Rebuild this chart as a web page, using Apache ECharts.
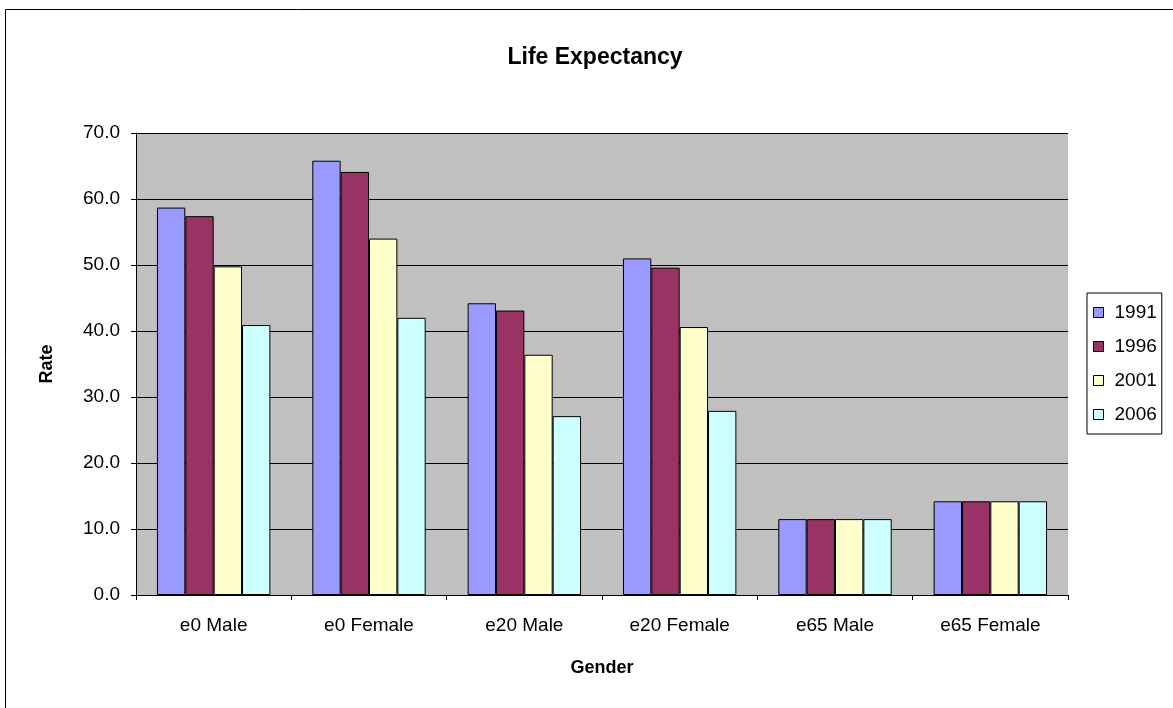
<!DOCTYPE html>
<html>
<head>
<meta charset="utf-8">
<script src="https://cdn.jsdelivr.net/npm/echarts@6/dist/echarts.min.js"></script>
<style>
  html, body { margin: 0; padding: 0; background: #fff; }
  #chart { width: 1173px; height: 708px; }
</style>
</head>
<body>
<div id="chart"></div>
<script>
// Life expectancy by indicator and census year
const categories = ['e0 Male', 'e0 Female', 'e20 Male', 'e20 Female', 'e65 Male', 'e65 Female'];
const years = ['1991', '1996', '2001', '2006'];
const values1991 = [58.7, 65.8, 44.2, 51.0, 11.5, 14.2];
const values1996 = [57.4, 64.1, 43.1, 49.6, 11.5, 14.2];
const values2001 = [49.8, 54.0, 36.4, 40.6, 11.5, 14.2];
const values2006 = [40.9, 42.0, 27.1, 27.9, 11.5, 14.2];
const yearColors = ['#9999FF', '#993366', '#FFFFCC', '#CCFFFF'];

const seriesValues = [values1991, values1996, values2001, values2006];
const font = '"Liberation Sans", Arial, sans-serif';

const chart = echarts.init(document.getElementById('chart'), null, { renderer: 'canvas' });

chart.setOption({
  animation: false,
  backgroundColor: '#fff',
  textStyle: { fontFamily: font },
  title: {
    text: 'Life Expectancy',
    left: 590,
    top: 41,
    textAlign: 'center',
    textStyle: { fontFamily: font, fontSize: 23, fontWeight: 'bold', color: '#000' }
  },
  graphic: [{
    type: 'rect',
    shape: { x: 5.5, y: 9.5, width: 1180, height: 720 },
    style: { fill: 'none', stroke: '#000', lineWidth: 1 },
    silent: true
  }],
  legend: {
    orient: 'vertical',
    left: 1087,
    top: 293,
    data: years,
    itemWidth: 10,
    itemHeight: 10,
    itemGap: 15,
    padding: [10, 5, 10, 6],
    borderColor: '#000',
    borderWidth: 1,
    icon: 'rect',
    itemStyle: { borderColor: '#000', borderWidth: 1 },
    textStyle: { fontFamily: font, fontSize: 19, color: '#000', padding: [0, 0, 0, 6] }
  },
  grid: {
    left: 136,
    right: 105,
    top: 133,
    bottom: 113,
    show: true,
    backgroundColor: '#C0C0C0',
    borderWidth: 0
  },
  xAxis: {
    type: 'category',
    data: categories,
    name: 'Gender',
    nameLocation: 'middle',
    nameGap: 64,
    nameTextStyle: { fontFamily: font, fontSize: 18, fontWeight: 'bold', color: '#000' },
    axisLine: { lineStyle: { color: '#000', width: 1 } },
    axisTick: { show: true, length: 5, lineStyle: { color: '#000' } },
    axisLabel: { fontFamily: font, fontSize: 19, color: '#000', margin: 21 },
    splitLine: { show: false }
  },
  yAxis: {
    type: 'value',
    min: 0,
    max: 70,
    interval: 10,
    name: 'Rate',
    nameLocation: 'middle',
    nameGap: 80,
    nameRotate: 90,
    nameTextStyle: { fontFamily: font, fontSize: 18, fontWeight: 'bold', color: '#000' },
    axisLine: { show: true, lineStyle: { color: '#000', width: 1 } },
    axisTick: { show: true, length: 5, lineStyle: { color: '#000' } },
    axisLabel: {
      fontFamily: font, fontSize: 19, color: '#000', margin: 16,
      formatter: v => v.toFixed(1)
    },
    splitLine: { show: true, lineStyle: { color: '#000', width: 1 } }
  },
  series: years.map((y, i) => ({
    name: y,
    type: 'bar',
    data: seriesValues[i],
    barGap: '0%',
    barCategoryGap: '27%',
    itemStyle: { color: yearColors[i], borderColor: '#000', borderWidth: 1 }
  }))
});
</script>
</body>
</html>
